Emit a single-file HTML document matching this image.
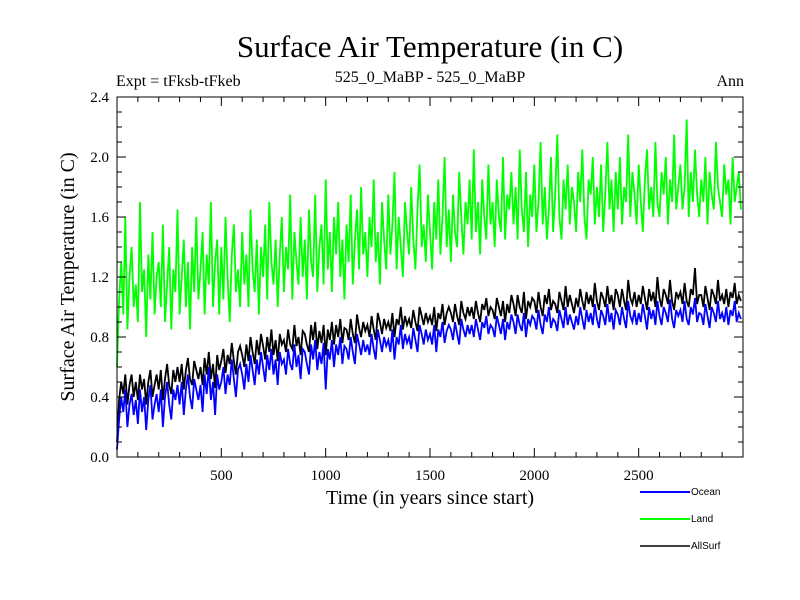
<!DOCTYPE html>
<html><head><meta charset="utf-8"><style>
body{margin:0;background:#fff}
svg{display:block;font-family:"Liberation Serif",serif}
</style></head><body>
<svg id="chart" width="800" height="600">
<text x="430" y="57" font-size="31" text-anchor="middle">Surface Air Temperature (in C)</text>
<text x="116" y="86" font-size="16">Expt = tFksb-tFkeb</text>
<text x="430" y="82" font-size="16" text-anchor="middle">525_0_MaBP - 525_0_MaBP</text>
<text x="744" y="86" font-size="16" text-anchor="end">Ann</text>
<text transform="translate(74,277) rotate(-90)" font-size="20" text-anchor="middle">Surface Air Temperature (in C)</text>
<text x="430" y="504" font-size="20" text-anchor="middle">Time (in years since start)</text>
<g id="series"></g>
<g id="axes"></g>
<g font-family="Liberation Sans, sans-serif" font-size="10">
 <g><line x1="640" y1="492" x2="690" y2="492" stroke="#0000ff" stroke-width="2"/><text x="691" y="495">Ocean</text></g>
 <g><line x1="640" y1="519" x2="690" y2="519" stroke="#00ff00" stroke-width="2"/><text x="691" y="522">Land</text></g>
 <g><line x1="640" y1="546" x2="690" y2="546" stroke="#000" stroke-width="1.5"/><text x="691" y="549">AllSurf</text></g>
</g>
</svg>
<script>
// values in hundredths of a degree C, one every 10 years
const yearStep = 10;
const landCenti = [60,105,130,95,160,85,120,140,100,115,
90,170,110,125,80,135,105,150,95,120,
130,100,155,90,115,140,85,125,110,165,
95,120,145,100,130,85,140,110,160,105,
125,150,95,135,115,170,100,130,145,95,
140,105,160,120,90,135,155,110,125,100,
150,115,135,100,165,125,110,145,95,140,
120,155,105,170,130,115,145,100,135,160,
110,140,125,175,105,150,130,115,160,120,
145,105,165,130,120,175,110,140,155,115,
185,125,150,110,160,135,170,120,145,105,
155,130,175,115,145,165,125,180,135,150,
120,160,140,185,130,150,115,170,145,125,
175,135,155,190,125,160,140,120,170,150,
135,180,145,125,165,195,140,155,130,175,
150,125,170,145,185,135,160,200,140,165,
130,175,150,140,190,160,135,170,155,185,
145,205,150,170,135,185,160,145,195,155,
170,140,185,160,150,200,145,175,165,190,
155,180,145,205,165,150,190,140,175,160,
195,150,170,210,155,180,145,165,200,150,
175,215,160,145,185,165,195,155,180,170,
150,190,170,205,160,145,185,175,200,155,
180,160,195,150,175,210,165,185,150,190,
165,200,155,180,170,215,160,190,175,155,
195,170,150,185,205,165,180,160,210,170,
160,190,175,200,155,185,170,215,165,180,
195,165,180,225,160,190,170,205,175,160,
185,170,200,155,190,175,165,210,180,170,
160,195,175,185,155,200,170,180,190,165];
const oceanCenti = [5,25,40,30,45,20,35,42,28,38,
22,45,30,40,18,38,48,25,35,42,
30,45,20,40,50,35,25,45,38,48,
35,50,28,45,55,40,32,52,45,38,
48,30,55,42,60,38,50,28,55,45,
50,60,42,55,48,65,52,40,58,62,
55,45,62,50,68,58,48,65,55,70,
60,50,68,58,72,55,65,48,70,62,
65,55,72,62,58,75,60,68,52,72,
70,62,55,75,65,78,58,70,62,76,
45,72,65,78,60,75,68,80,62,74,
72,65,80,70,62,82,75,68,78,70,
75,68,82,72,65,85,78,70,80,74,
78,70,85,65,80,75,88,72,82,76,
80,72,86,78,70,88,82,75,85,78,
82,75,88,70,85,80,90,76,84,88,
85,78,90,82,75,92,85,80,88,82,
88,80,92,85,78,90,86,94,82,88,
86,80,94,88,82,92,78,90,85,95,
90,82,95,88,84,96,80,92,88,94,
92,85,98,88,82,95,90,100,86,92,
90,84,98,92,86,100,88,95,90,85,
94,88,100,92,85,98,90,96,88,102,
92,86,98,94,88,102,90,96,85,98,
95,88,100,92,86,104,94,90,98,88,
96,90,102,94,85,100,92,98,88,104,
94,88,100,96,90,105,92,86,98,94,
98,90,104,92,88,100,95,106,90,96,
95,88,102,94,86,100,96,90,104,92,
96,90,100,88,98,94,104,90,96,92];
const allSurfCenti = [10,38,50,42,55,35,48,55,40,50,
38,55,45,52,35,50,58,40,48,55,
45,58,38,52,62,48,42,58,50,60,
50,62,45,58,66,52,48,64,58,52,
60,48,66,55,70,52,62,46,68,58,
64,72,56,68,62,76,64,55,70,74,
68,60,75,64,80,70,62,78,68,82,
74,65,80,70,85,68,78,64,82,75,
78,70,85,75,72,88,74,80,68,84,
82,75,70,88,78,90,72,84,76,88,
68,85,78,90,75,88,80,92,76,86,
85,78,92,82,76,95,86,80,90,84,
88,80,94,85,78,96,90,82,92,86,
90,84,96,80,92,88,100,85,94,88,
92,86,98,90,84,100,94,88,96,90,
94,88,100,84,96,92,102,88,96,100,
96,90,102,94,88,104,96,92,100,94,
100,92,104,96,90,102,98,106,94,100,
98,92,106,100,94,104,90,102,96,108,
102,94,108,100,96,110,92,104,100,106,
104,96,110,100,94,108,102,112,98,104,
102,96,110,104,98,114,100,108,102,96,
106,100,112,104,98,110,102,108,100,116,
104,98,110,106,100,114,102,108,98,112,
108,100,112,104,98,118,106,102,110,100,
108,102,114,106,98,112,104,110,100,120,
106,100,112,108,102,118,104,98,110,106,
110,102,116,104,100,112,108,126,102,108,
108,100,114,106,98,112,108,102,118,104,
108,102,112,100,110,106,116,102,108,104];
const xTickLabels = [500,1000,1500,2000,2500];
const yTickLabels = ["0.0","0.4","0.8","1.2","1.6","2.0","2.4"];

const L=117,R=743,T=97,B=457,XMAX=3000,YMAX=2.4;
const sx=v=>L+(v/XMAX)*(R-L), sy=v=>B-(v/YMAX)*(B-T);
const NS="http://www.w3.org/2000/svg";
const sg=document.getElementById('series'), ag=document.getElementById('axes');
function mk(tag,attrs,parent){const e=document.createElementNS(NS,tag);for(const k in attrs)e.setAttribute(k,attrs[k]);parent.appendChild(e);return e;}
function drawSeries(vals,color,w,name){
  const pts=vals.map((v,i)=>sx(i*yearStep).toFixed(1)+','+sy(v/100).toFixed(1)).join(' ');
  const p=mk('polyline',{points:pts,fill:'none',stroke:color,'stroke-width':w,'stroke-linejoin':'miter'},sg);
  
  
}
drawSeries(landCenti,'#00ff00',1.8,'land-line');
drawSeries(allSurfCenti,'#000000',1.8,'allsurf-line');
drawSeries(oceanCenti,'#0000ff',1.8,'ocean-line');
const frame=mk('rect',{x:L,y:T,width:R-L,height:B-T,fill:'none',stroke:'#000','stroke-width':1},ag);


for(let yr=100;yr<XMAX;yr+=100){
  const x=sx(yr), len=(yr%500===0)?9:5;
  mk('line',{x1:x,y1:B,x2:x,y2:B-len,stroke:'#000'},ag);
  mk('line',{x1:x,y1:T,x2:x,y2:T+len,stroke:'#000'},ag);
}
for(let k=1;k<24;k++){
  const y=sy(k/10), len=(k%4===0)?9:5;
  mk('line',{x1:L,y1:y,x2:L+len,y2:y,stroke:'#000'},ag);
  mk('line',{x1:R,y1:y,x2:R-len,y2:y,stroke:'#000'},ag);
}
xTickLabels.forEach(v=>{
  const t=mk('text',{x:sx(v),y:B+23,'font-size':15,'text-anchor':'middle'},ag);
  t.textContent=v;
  
  
});
yTickLabels.forEach(v=>{
  const t=mk('text',{x:L-8,y:sy(parseFloat(v))+5,'font-size':15,'text-anchor':'end'},ag);
  t.textContent=v;
  
  
});
</script>
</body></html>
